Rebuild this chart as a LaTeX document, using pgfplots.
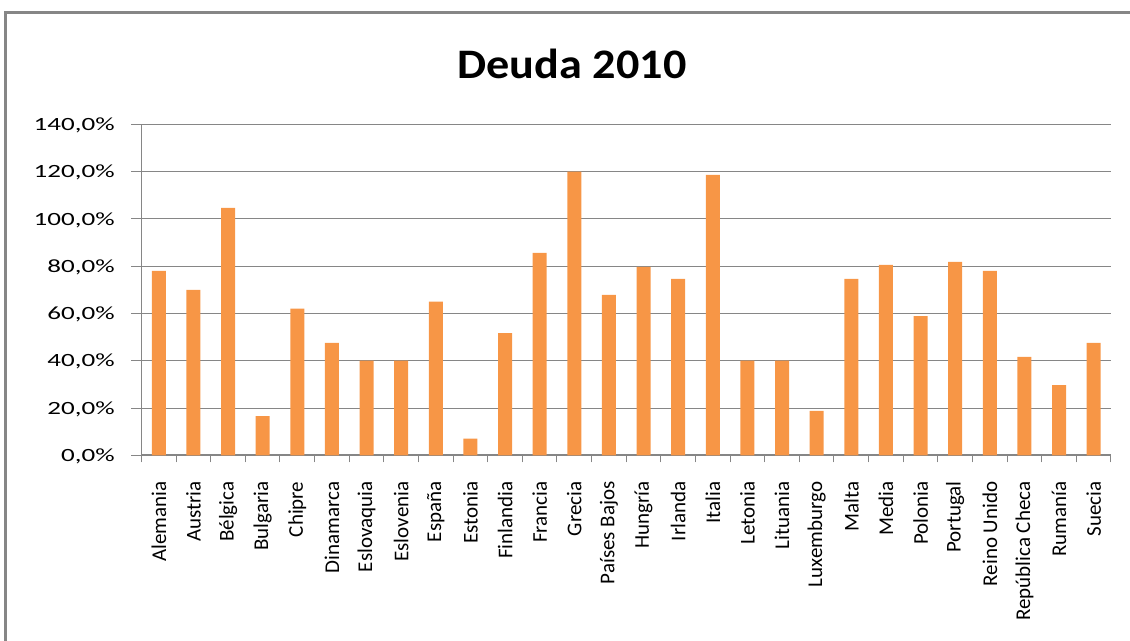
\documentclass[border=0pt]{standalone}
\usepackage{pgfplots}
\pgfplotsset{compat=1.18}
\usepackage{fontspec}
\setmainfont{Carlito}
\newfontfamily\ylabfont{Carlito}[FakeStretch=1.45]
\newfontfamily\titlefont{Carlito}[FakeStretch=1.1]
\definecolor{barc}{HTML}{F79646}
\definecolor{gridc}{RGB}{134,134,134}
\begin{document}
\begin{tikzpicture}[x=0.75pt,y=0.75pt]
\path[use as bounding box] (-141.5,-185.7) rectangle (988.5,455.3);
\begin{axis}[at={(0,0)}, anchor=south west, scale only axis,
  width=727.1pt, height=248.25pt,
  xmin=-0.5, xmax=27.5, ymin=0, ymax=140, enlargelimits=false,
  ybar, bar width=10.5pt,
  axis x line*=bottom, axis y line*=left,
  x axis line style={gridc, line width=1.5pt},
  y axis line style={gridc, line width=0.75pt},
  ytick={0,20,...,140},
  yticklabels={{0,0\%},{20,0\%},{40,0\%},{60,0\%},{80,0\%},{100,0\%},{120,0\%},{140,0\%}},
  ymajorgrids, major grid style={gridc, line width=0.75pt},
  tick align=outside,
  major tick length=7.5pt,
  ytick style={gridc, line width=0.75pt},
  xtick={-0.5,0.5,...,27.5}, xticklabels={},
  xtick style={gridc, line width=0.75pt, /pgfplots/major tick length=5.25pt},
  extra x ticks={0,1,...,27},
  extra x tick labels={Alemania,Austria,Bélgica,Bulgaria,Chipre,Dinamarca,Eslovaquia,Eslovenia,España,Estonia,Finlandia,Francia,Grecia,Países Bajos,Hungría,Irlanda,Italia,Letonia,Lituania,Luxemburgo,Malta,Media,Polonia,Portugal,Reino Unido,República Checa,Rumanía,Suecia},
  extra x tick style={tick style={draw=none},
    xticklabel style={rotate=90, anchor=east, inner sep=0pt, xshift=-12pt,
      font=\fontsize{15.75}{18}\selectfont}},
  yticklabel style={font=\ylabfont\fontsize{14}{16}\selectfont, anchor=east, inner sep=0pt, xshift=-12.4pt, yshift=-0.75pt},
]
\addplot[fill=barc, draw=none] coordinates {
(0,78) (1,70) (2,104.6) (3,16.6) (4,62) (5,47.5) (6,40) (7,40) (8,65) (9,7)
(10,51.7) (11,85.6) (12,120) (13,67.8) (14,79.7) (15,74.6) (16,118.6) (17,40) (18,40) (19,18.8)
(20,74.6) (21,80.5) (22,58.9) (23,81.8) (24,78) (25,41.6) (26,29.7) (27,47.5)};
\end{axis}
\node[anchor=base, font=\titlefont\bfseries\fontsize{31.5}{36}\selectfont] at (430.5,377) {Deuda 2010};
\draw[gridc, line width=2.25pt] (-135.5,-220) -- (-135.5,442.8) -- (1020,442.8);
\end{tikzpicture}
\end{document}
